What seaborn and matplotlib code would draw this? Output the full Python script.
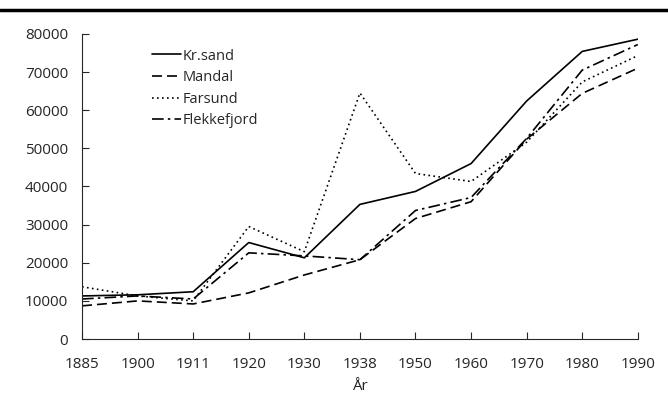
import numpy as np
import pandas as pd
import seaborn as sns
import matplotlib
matplotlib.use('Agg')
import matplotlib.pyplot as plt
from matplotlib.lines import Line2D

years = ['1885', '1900', '1911', '1920', '1930', '1938', '1950', '1960', '1970', '1980', '1990']
krsand = [11300, 11600, 12400, 25300, 21300, 35300, 38700, 46000, 62400, 75400, 78600]
mandal = [8700, 10000, 9200, 12100, 16800, 20800, 31600, 36000, 52400, 64400, 71000]
farsund = [13700, 11300, 10000, 29500, 22900, 64500, 43400, 41300, 51600, 67400, 74300]
flekkefjord = [10500, 11300, 10500, 22600, 21800, 20800, 33700, 37100, 52600, 70500, 77200]

series = {'Kr.sand': krsand, 'Mandal': mandal, 'Farsund': farsund, 'Flekkefjord': flekkefjord}
dashes = {'Kr.sand': '', 'Mandal': (6, 3), 'Farsund': (1, 2), 'Flekkefjord': (7, 2.5, 1.5, 2.5)}

rows = []
for name, vals in series.items():
    for i, v in enumerate(vals):
        rows.append({'pos': i, 'by': name, 'value': v})
df = pd.DataFrame(rows)

sns.set_style('ticks')
plt.rcParams['font.family'] = ['Open Sans', 'DejaVu Sans']

fig = plt.figure(figsize=(6.68, 4.08), dpi=100)
ax = fig.add_axes([0.1228, 0.169, 0.832, 0.748])

sns.lineplot(data=df, x='pos', y='value', style='by', dashes=dashes,
             color='black', linewidth=1.2, ax=ax, legend=False)

# legend handles drawn by hand so the dash patterns match the lines
handles = []
for n in series:
    h = Line2D([], [], color='black', linewidth=1.2)
    if dashes[n]:
        h.set_dashes(dashes[n])
    handles.append(h)
ax.legend(handles, list(series), loc='upper left', bbox_to_anchor=(0.105, 0.99),
          frameon=False, fontsize=10.5, handlelength=2.0, handletextpad=0.1,
          labelspacing=0.45, borderpad=0.3)

ax.set_xlim(0, len(years) - 1)
ax.set_ylim(0, 80000)
ax.set_xticks(range(len(years)))
ax.set_xticklabels(years)
ax.set_yticks(np.arange(0, 80001, 10000))
ax.tick_params(direction='in', length=5, labelsize=11)
ax.tick_params(axis='x', pad=13)
ax.tick_params(axis='y', pad=10)
ax.set_xlabel('År', fontsize=11, labelpad=5)
ax.set_ylabel('')
sns.despine(ax=ax)

fig.add_artist(Line2D([0.0, 1.0], [0.975, 0.975], color='black', linewidth=2.5,
                      transform=fig.transFigure))

fig.savefig('out.png', dpi=100)
